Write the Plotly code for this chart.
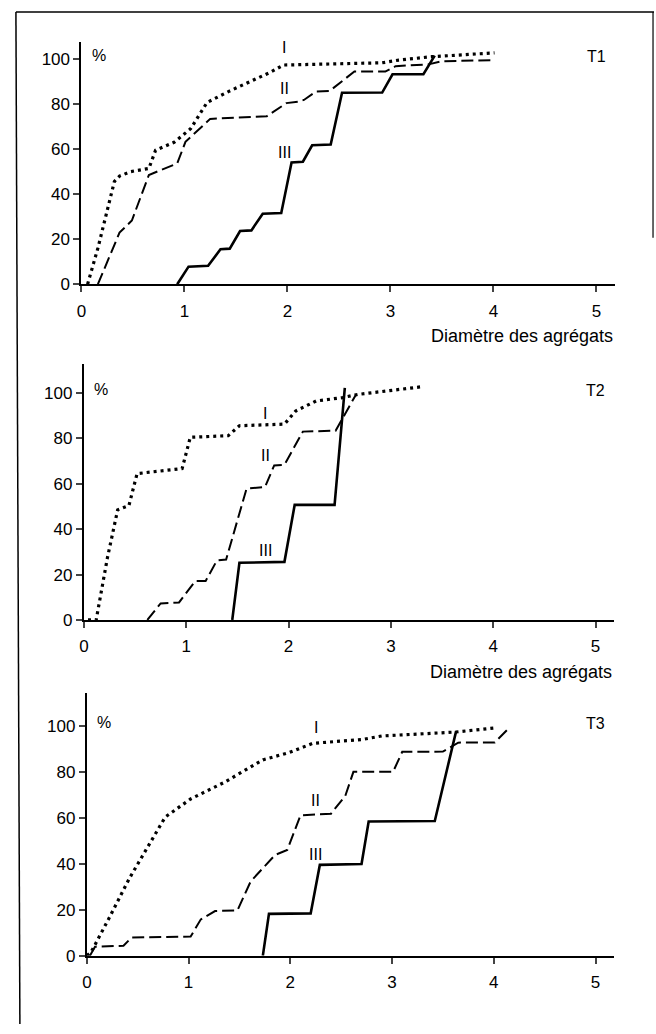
import plotly.graph_objects as go

# ---------------- data ----------------
x_ticks = [0, 1, 2, 3, 4, 5]
y_ticks = [0, 20, 40, 60, 80, 100]
panel_names = ["T1", "T2", "T3"]
curve_labels = ["I", "II", "III"]
x_title = "Diamètre des agrégats"

t1_I_x = [0.06, 0.16, 0.32, 0.37, 0.48, 0.655, 0.72, 0.90, 1.06, 1.22, 1.44, 1.83, 1.96, 2.40, 2.92, 3.08, 3.40, 4.01]
t1_I_y = [0, 16, 45.6, 48, 50, 51.4, 59.5, 63, 69, 80.7, 85.8, 94, 97.3, 97.8, 98.3, 99.5, 101, 102.7]
t1_II_x = [0.16, 0.37, 0.49, 0.655, 0.93, 1.01, 1.25, 1.80, 1.99, 2.10, 2.16, 2.28, 2.41, 2.65, 2.95, 3.05, 3.37, 3.50, 4.01]
t1_II_y = [0, 22.9, 28.3, 48.5, 53.6, 63.2, 73.4, 74.6, 80.4, 81, 81.8, 85.6, 85.8, 94.4, 94.4, 96.8, 97.6, 99, 99.5]
t1_III_x = [0.93, 1.04, 1.23, 1.35, 1.44, 1.54, 1.65, 1.76, 1.94, 2.04, 2.15, 2.24, 2.42, 2.53, 2.92, 3.02, 3.32, 3.43]
t1_III_y = [0, 7.8, 8.2, 15.5, 15.8, 23.6, 23.9, 31.3, 31.6, 54, 54.4, 61.7, 62, 85, 85.1, 93.2, 93.2, 101.5]

t2_I_x = [0.04, 0.12, 0.23, 0.33, 0.44, 0.52, 0.96, 1.04, 1.41, 1.52, 1.96, 2.07, 2.27, 2.53, 2.68, 3.29]
t2_I_y = [0, 0, 27.4, 48.5, 50.4, 64.5, 66.7, 80.5, 81.2, 85.6, 86.3, 92.1, 96.5, 98, 99.4, 102.7]
t2_II_x = [0.62, 0.75, 0.93, 1.09, 1.19, 1.30, 1.39, 1.59, 1.77, 1.86, 1.96, 2.14, 2.46, 2.53, 2.66]
t2_II_y = [0, 7.3, 7.7, 17.2, 17.2, 26.2, 26.6, 57.9, 58.6, 68.1, 68.4, 83, 83.4, 89.2, 99.4]
t2_III_x = [1.45, 1.52, 1.96, 2.06, 2.45, 2.55]
t2_III_y = [0, 25.2, 25.6, 50.7, 50.7, 102.3]

t3_I_x = [0.0, 0.04, 0.22, 0.42, 0.59, 0.77, 1.02, 1.35, 1.73, 1.99, 2.22, 2.71, 2.90, 3.62, 4.01]
t3_I_y = [0, 1.4, 16.5, 33.8, 46.7, 60.3, 68.2, 75.4, 85.2, 88.4, 92.4, 94.1, 95.6, 97.3, 99.1]
t3_II_x = [0.03, 0.08, 0.36, 0.44, 1.02, 1.12, 1.26, 1.48, 1.61, 1.85, 1.97, 2.10, 2.40, 2.54, 2.62, 3.01, 3.10, 3.50, 3.65, 4.01, 4.13]
t3_II_y = [0, 3.9, 4.3, 7.9, 8.3, 15.8, 19.4, 19.7, 32.3, 43.8, 46, 61.1, 61.8, 69.5, 80, 80, 88.7, 88.8, 92.7, 92.8, 98.2]
t3_III_x = [1.73, 1.79, 2.20, 2.29, 2.70, 2.77, 3.42, 3.63]
t3_III_y = [0, 18.2, 18.4, 39.5, 39.9, 58.4, 58.6, 97.7]

# label anchor positions (data units) per panel for I, II, III
lab_x = [[1.97, 1.97, 1.97], [1.77, 1.77, 1.77], [2.25, 2.25, 2.25]]
lab_y = [[105, 87, 58.5], [91, 72.5, 30.5], [99.5, 67.5, 44]]

series = [
    [(t1_I_x, t1_I_y), (t1_II_x, t1_II_y), (t1_III_x, t1_III_y)],
    [(t2_I_x, t2_I_y), (t2_II_x, t2_II_y), (t2_III_x, t2_III_y)],
    [(t3_I_x, t3_I_y), (t3_II_x, t3_II_y), (t3_III_x, t3_III_y)],
]

# ---------------- layout geometry ----------------
W, H = 656, 1034
FONT = "Liberation Sans, Arial, sans-serif"
x_doms = [[77 / W, 614.7 / W], [79.5 / W, 613.6 / W], [82.5 / W, 613.5 / W]]
y_doms = [[1 - 287 / H, 1 - 42.7 / H], [1 - 626 / H, 1 - 368 / H], [1 - 965 / H, 1 - 700 / H]]
y_tops = [107.4, 112.6, 114.2]
x_max = 5.18

styles = [
    dict(color="black", width=3.2, dash="3px,4px"),
    dict(color="black", width=2, dash="12px,5px"),
    dict(color="black", width=2.6),
]

TICKFONT = dict(family=FONT, size=17, color="black")
LABFONT = dict(family=FONT, size=16, color="black")

fig = go.Figure()
for p in range(3):
    sfx = "" if p == 0 else str(p + 1)
    for k, (xs, ys) in enumerate(series[p]):
        fig.add_trace(go.Scatter(x=xs, y=ys, mode="lines", line=styles[k],
                                 xaxis="x" + sfx, yaxis="y" + sfx,
                                 showlegend=False, hoverinfo="skip"))
    fig.layout["xaxis" + sfx] = dict(
        domain=x_doms[p], range=[0, x_max], anchor="y" + sfx,
        tickvals=x_ticks, ticks="outside", ticklen=6, tickwidth=1.5,
        ticklabelstandoff=4,
        showline=True, linewidth=2, linecolor="black", showgrid=False,
        zeroline=False, tickfont=TICKFONT, fixedrange=True)
    fig.layout["yaxis" + sfx] = dict(
        domain=y_doms[p], range=[0, y_tops[p]], anchor="x" + sfx,
        tickvals=y_ticks, ticks="outside", ticklen=6, tickwidth=1.5,
        showline=True, linewidth=2, linecolor="black", showgrid=False,
        zeroline=False, tickfont=TICKFONT, fixedrange=True)
    xr, yr = "x" + sfx, "y" + sfx
    # % sign
    fig.add_annotation(x=0.08, y=y_ticks[-1] + 1.5, xref=xr, yref=yr, text="%",
                       showarrow=False, xanchor="left", yanchor="middle", font=LABFONT)
    # panel name
    fig.add_annotation(x=5.0, y=y_ticks[-1] + 1, xref=xr, yref=yr, text=panel_names[p],
                       showarrow=False, xanchor="center", yanchor="middle", font=LABFONT)
    for k in range(3):
        fig.add_annotation(x=lab_x[p][k], y=lab_y[p][k], xref=xr, yref=yr,
                           text=curve_labels[k], showarrow=False, font=LABFONT)
    if p < 2:
        fig.add_annotation(x=x_doms[p][1], y=y_doms[p][0], xref="paper", yref="paper",
                           text=x_title, showarrow=False, xanchor="right",
                           yanchor="middle", yshift=-52,
                           font=dict(family=FONT, size=18, color="black"))

# frame lines (scanned page border)
fig.add_shape(type="line", xref="paper", yref="paper", x0=11 / W, y0=1 - 12 / H,
              x1=654 / W, y1=1 - 12 / H, line=dict(color="black", width=1.5))
fig.add_shape(type="line", xref="paper", yref="paper", x0=11 / W, y0=1 - 12 / H,
              x1=15 / W, y1=0, line=dict(color="black", width=1.5))
fig.add_shape(type="line", xref="paper", yref="paper", x0=653 / W, y0=1 - 12 / H,
              x1=653 / W, y1=1 - 240 / H, line=dict(color="black", width=1.2))

fig.update_layout(width=W, height=H, margin=dict(l=0, r=0, t=0, b=0),
                  paper_bgcolor="white", plot_bgcolor="white",
                  font=dict(family=FONT, size=15, color="black"))

fig.write_html("out.html", config={"displayModeBar": False})
